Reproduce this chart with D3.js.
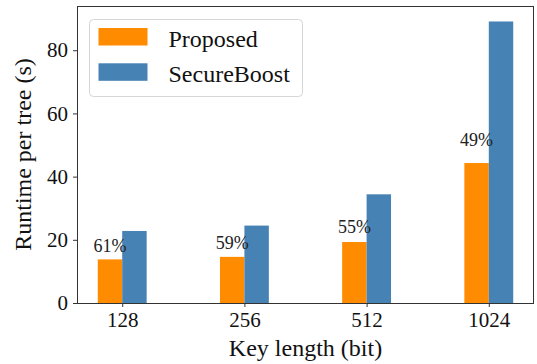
<!DOCTYPE html>
<html>
<head>
<meta charset="utf-8">
<script src="https://cdn.jsdelivr.net/npm/d3@7"></script>
<style>
  body { margin: 0; background: #fff; }
</style>
</head>
<body>
<svg id="chart"></svg>
<script>
// key lengths and runtimes
let keyLengths = ["128", "256", "512", "1024"];
let proposed = [13.8, 14.6, 19.3, 44.3];
let secureBoost = [22.8, 24.5, 34.4, 89.1];
let ratioLabels = ["61%", "59%", "55%", "49%"];
let yTicks = [0, 20, 40, 60, 80];

let seriesNames = ["Proposed", "SecureBoost"];
let colors = ["#ff8c00", "#4682b4"];
let serif = "'Liberation Serif', 'Times New Roman', serif";

function getConfig() {
  let width = 537;
  let height = 364;
  let margin = { top: 6, bottom: 61, left: 77, right: 3 };
  let bodyHeight = height - margin.top - margin.bottom;
  let bodyWidth = width - margin.left - margin.right;
  let container = d3.select("#chart")
    .attr("width", width)
    .attr("height", height)
    .attr("font-family", serif);
  return { width, height, margin, bodyHeight, bodyWidth, container };
}

function getScales(config) {
  let { margin, bodyWidth, bodyHeight } = config;
  // bars live at index-0.2 .. index+0.2, with matplotlib-ish 5% padding
  let xScale = d3.scaleLinear()
    .domain([-0.37, keyLengths.length - 1 + 0.37])
    .range([margin.left, margin.left + bodyWidth]);
  let yScale = d3.scaleLinear()
    .domain([0, 94])
    .range([margin.top + bodyHeight, margin.top]);
  return { xScale, yScale };
}

function drawBars(config, scales) {
  let { container } = config;
  let { xScale, yScale } = scales;
  let barW = 0.2;

  let rows = keyLengths.map((k, i) => ({ i, p: proposed[i], s: secureBoost[i], label: ratioLabels[i] }));

  container.append("g").selectAll("rect")
    .data(rows)
    .enter().append("rect")
      .attr("x", d => xScale(d.i - barW))
      .attr("y", d => yScale(d.p))
      .attr("width", d => xScale(d.i) - xScale(d.i - barW))
      .attr("height", d => yScale(0) - yScale(d.p))
      .style("fill", colors[0]);

  container.append("g").selectAll("rect")
    .data(rows)
    .enter().append("rect")
      .attr("x", d => xScale(d.i))
      .attr("y", d => yScale(d.s))
      .attr("width", d => xScale(d.i + barW) - xScale(d.i))
      .attr("height", d => yScale(0) - yScale(d.s))
      .style("fill", colors[1]);

  // ratio text sits a little above the orange bar
  container.append("g").selectAll("text")
    .data(rows)
    .enter().append("text")
      .attr("x", d => xScale(d.i - barW / 2))
      .attr("y", d => yScale(d.p * 1.1 + 1))
      .attr("text-anchor", "middle")
      .style("font-family", serif)
      .style("font-size", "18px")
      .style("fill", "#222")
      .text(d => d.label);
}

function drawAxes(config, scales) {
  let { container, margin, bodyHeight, bodyWidth } = config;
  let { xScale, yScale } = scales;

  let xAxis = container.append("g")
    .attr("transform", "translate(0," + (margin.top + bodyHeight) + ")")
    .call(d3.axisBottom(xScale)
      .tickValues(d3.range(keyLengths.length))
      .tickFormat(i => keyLengths[i])
      .tickSize(4).tickPadding(5));

  let yAxis = container.append("g")
    .attr("transform", "translate(" + margin.left + ",0)")
    .call(d3.axisLeft(yScale).tickValues(yTicks).tickSize(4).tickPadding(5));

  [xAxis, yAxis].forEach(a => {
    a.attr("font-family", serif).attr("font-size", null);
    a.select(".domain").remove();
    a.selectAll("line").attr("stroke", "#333");
    a.selectAll("text")
      .style("font-family", serif)
      .style("font-size", "21px")
      .style("fill", "#111");
  });
  xAxis.selectAll("text").attr("dy", "0.72em");

  // frame
  container.append("rect")
    .attr("x", margin.left + 0.5)
    .attr("y", margin.top + 0.5)
    .attr("width", bodyWidth - 1)
    .attr("height", bodyHeight)
    .attr("fill", "none")
    .attr("stroke", "#333")
    .attr("stroke-width", 1);

  container.append("text")
    .attr("x", margin.left + bodyWidth / 2)
    .attr("y", 356)
    .attr("text-anchor", "middle")
    .style("font-family", serif)
    .style("font-size", "24px")
    .style("fill", "#111")
    .text("Key length (bit)");

  container.append("text")
    .attr("transform", "translate(31," + (margin.top + bodyHeight / 2) + ") rotate(-90)")
    .attr("text-anchor", "middle")
    .style("font-family", serif)
    .style("font-size", "24px")
    .style("fill", "#111")
    .text("Runtime per tree (s)");
}

function drawLegend(config) {
  let { container } = config;
  let legend = container.append("g").attr("transform", "translate(89.5,19.5)");
  legend.append("rect")
    .attr("width", 213).attr("height", 77)
    .attr("rx", 4)
    .attr("fill", "#fff").attr("fill-opacity", 0.8)
    .attr("stroke", "#d6d6d6");

  let items = legend.selectAll("g.item")
    .data(seriesNames)
    .enter().append("g")
      .attr("class", "item")
      .attr("transform", (d, i) => "translate(0," + (i * 35.3) + ")");

  items.append("rect")
    .attr("x", 9).attr("y", 8.5)
    .attr("width", 49).attr("height", 17.5)
    .style("fill", (d, i) => colors[i]);

  items.append("text")
    .attr("x", 79).attr("y", 27)
    .style("font-family", serif)
    .style("font-size", "24px")
    .style("fill", "#111")
    .text(d => d);
}

function showChart() {
  let config = getConfig();
  let scales = getScales(config);
  drawBars(config, scales);
  drawAxes(config, scales);
  drawLegend(config);
}

showChart();
</script>
</body>
</html>
